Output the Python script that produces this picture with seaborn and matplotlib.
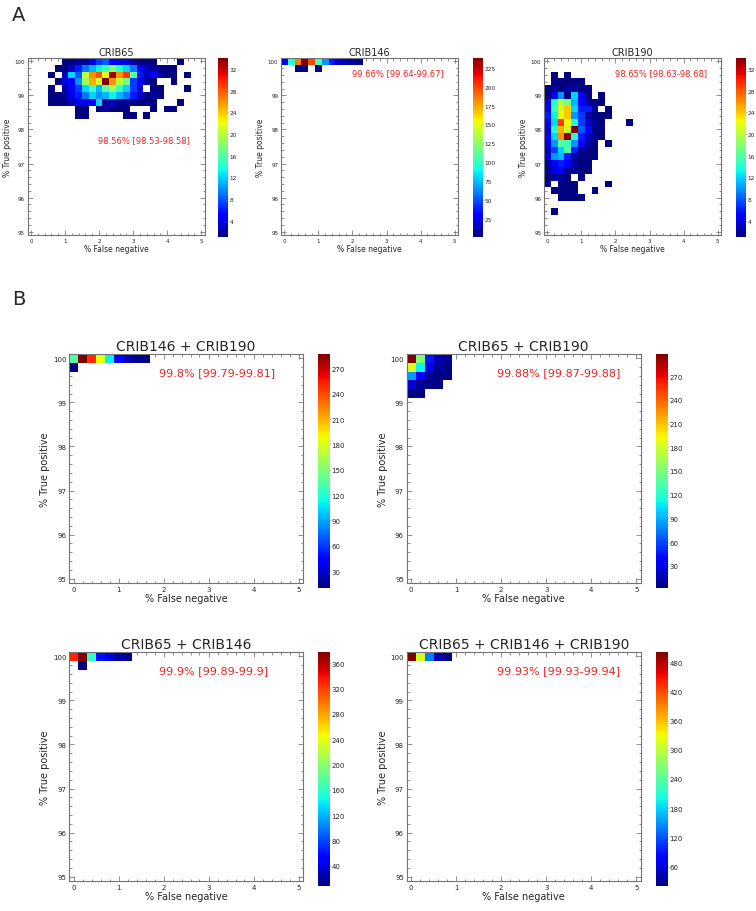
"""Re-draw the CRIB sensitivity / false-negative 2-D histograms (panels A and B)."""

import numpy as np
import pandas as pd
import matplotlib
matplotlib.use("Agg")
import matplotlib.pyplot as plt
import seaborn as sns

sns.set_style("white")
plt.rcParams["font.family"] = ["DejaVu Sans"]

W, H, DPI = 756, 912, 100

# bin centres (0.2 % steps); row 0 = 100 % true positive, col 0 = 0 % false negative
X_BINS = [round(0.2 * i, 1) for i in range(26)]
Y_BINS = [round(100 - 0.2 * i, 1) for i in range(26)]

# counts per bin, top-left block of every histogram (rest is empty)
CRIB65 = [
    [0, 0, 0, 0, 0, 1, 1, 2, 2, 4, 7, 8, 5, 4, 4, 2, 1, 1, 1, 0, 0, 0, 1, 0],
    [0, 0, 0, 0, 1, 1, 3, 6, 9, 11, 13, 15, 18, 14, 12, 9, 5, 3, 2, 1, 1, 1, 0, 0],
    [0, 0, 0, 1, 0, 3, 12, 8, 20, 26, 28, 22, 33, 26, 29, 16, 6, 3, 5, 2, 1, 1, 0, 1],
    [0, 0, 0, 0, 1, 4, 5, 10, 19, 25, 21, 34, 26, 20, 17, 7, 5, 2, 1, 0, 0, 1, 0, 0],
    [0, 0, 0, 1, 0, 2, 5, 7, 12, 15, 11, 16, 19, 15, 12, 7, 4, 0, 1, 1, 0, 0, 0, 1],
    [0, 0, 0, 1, 1, 2, 4, 6, 9, 12, 10, 11, 13, 11, 9, 6, 3, 1, 2, 1, 0, 0, 0, 0],
    [0, 0, 0, 1, 1, 1, 3, 4, 4, 5, 12, 2, 3, 2, 2, 1, 1, 1, 1, 0, 0, 0, 1, 0],
    [0, 0, 0, 0, 0, 0, 0, 1, 1, 0, 1, 2, 1, 1, 1, 0, 0, 0, 1, 0, 1, 1, 0, 0],
    [0, 0, 0, 0, 0, 0, 0, 1, 1, 0, 0, 0, 0, 0, 1, 1, 0, 1, 0, 0, 0, 0, 0, 0],
]
CRIB146 = [
    [30, 95, 185, 238, 200, 105, 65, 35, 18, 12, 9, 6],
    [0, 0, 2, 1, 0, 1, 0, 0, 0, 0, 0, 0],
]
CRIB190 = [
    [0, 0, 0, 0, 0, 0, 0, 0, 0, 0, 0, 0, 0],
    [0, 0, 0, 0, 0, 0, 0, 0, 0, 0, 0, 0, 0],
    [0, 1, 0, 1, 0, 0, 0, 0, 0, 0, 0, 0, 0],
    [0, 1, 1, 1, 1, 1, 0, 0, 0, 0, 0, 0, 0],
    [1, 2, 1, 2, 2, 1, 1, 0, 0, 0, 0, 0, 0],
    [1, 5, 10, 1, 12, 4, 1, 0, 1, 0, 0, 0, 0],
    [4, 14, 20, 17, 11, 5, 2, 1, 1, 0, 0, 0, 0],
    [5, 15, 21, 24, 12, 6, 6, 2, 0, 1, 0, 0, 0],
    [6, 13, 22, 24, 10, 7, 2, 1, 1, 1, 0, 0, 0],
    [5, 12, 29, 22, 14, 7, 3, 2, 1, 0, 0, 0, 1],
    [4, 14, 25, 21, 34, 8, 5, 1, 1, 0, 0, 0, 0],
    [5, 12, 26, 34, 14, 6, 3, 2, 1, 0, 0, 0, 0],
    [4, 10, 16, 15, 10, 5, 2, 1, 0, 1, 0, 0, 0],
    [3, 7, 12, 16, 6, 2, 1, 1, 0, 0, 0, 0, 0],
    [4, 10, 11, 6, 2, 1, 1, 1, 0, 0, 0, 0, 0],
    [2, 5, 6, 5, 2, 1, 1, 0, 0, 0, 0, 0, 0],
    [2, 4, 5, 2, 2, 1, 1, 0, 0, 0, 0, 0, 0],
    [1, 2, 2, 1, 0, 1, 0, 0, 0, 0, 0, 0, 0],
    [1, 0, 1, 1, 1, 0, 0, 0, 0, 1, 0, 0, 0],
    [0, 1, 1, 1, 1, 0, 0, 1, 0, 0, 0, 0, 0],
    [0, 0, 1, 1, 1, 1, 0, 0, 0, 0, 0, 0, 0],
    [0, 0, 0, 0, 0, 0, 0, 0, 0, 0, 0, 0, 0],
    [0, 1, 0, 0, 0, 0, 0, 0, 0, 0, 0, 0, 0],
]
CRIB146_190 = [
    [135, 287, 250, 185, 110, 45, 25, 15, 10],
    [10, 0, 0, 0, 0, 0, 0, 0, 0],
]
CRIB65_190 = [
    [298, 150, 45, 15, 8],
    [185, 110, 30, 8, 5],
    [85, 35, 10, 5, 3],
    [25, 8, 4, 2, 0],
    [4, 2, 0, 0, 0],
]
CRIB65_146 = [
    [330, 378, 160, 60, 40, 20, 15],
    [0, 8, 0, 0, 0, 0, 0],
]
CRIB65_146_190 = [
    [501, 310, 140, 40, 20],
]

TITLES = ["CRIB65", "CRIB146", "CRIB190",
          "CRIB146 + CRIB190", "CRIB65 + CRIB190",
          "CRIB65 + CRIB146", "CRIB65 + CRIB146 + CRIB190"]
ACCURACY = ["98.56% [98.53-98.58]", "99.66% [99.64-99.67]",
            "98.65% [98.63-98.68]", "99.8% [99.79-99.81]",
            "99.88% [99.87-99.88]", "99.9% [99.89-99.9]",
            "99.93% [99.93-99.94]"]
CBAR_STEP = [4, 25, 4, 30, 30, 40, 60]


def to_frame(block):
    grid = np.zeros((len(Y_BINS), len(X_BINS)))
    b = np.array(block, dtype=float)
    grid[:b.shape[0], :b.shape[1]] = b
    return pd.DataFrame(grid, index=Y_BINS, columns=X_BINS)


def xpos(v):
    return v / 0.2 + 0.5


def ypos(v):
    return (100 - v) / 0.2 + 0.5


def px_axes(fig, left, top, w, h):
    return fig.add_axes([left / W, 1 - (top + h) / H, w / W, h / H])


SMALL = dict(title=7, label=5.5, tick=4, annot=6, cb=4.2, pad=2)
LARGE = dict(title=10, label=7, tick=5, annot=8, cb=5, pad=3)


def draw(fig, block, title, acc, step, ax_rect, cax_rect, st, txt_xy):
    ax = px_axes(fig, *ax_rect)
    cax = px_axes(fig, *cax_rect)
    df = to_frame(block)
    sns.heatmap(df, mask=(df == 0), cmap="jet", ax=ax, cbar_ax=cax,
                xticklabels=False, yticklabels=False)

    for sp in ax.spines.values():
        sp.set_visible(True)
        sp.set_color("0.45")
        sp.set_linewidth(0.8)

    ax.set_xticks([xpos(v) for v in range(6)])
    ax.set_xticklabels([str(v) for v in range(6)])
    ax.set_xticks([xpos(v) for v in X_BINS], minor=True)
    ax.set_yticks([ypos(v) for v in range(95, 101)])
    ax.set_yticklabels([str(v) for v in range(95, 101)])
    ax.set_yticks([ypos(v) for v in Y_BINS], minor=True)
    ax.tick_params(which="both", direction="in", top=True, right=True,
                   bottom=True, left=True, color="0.4", width=0.5,
                   labelsize=st["tick"], pad=2, labelcolor="0.15")
    ax.tick_params(which="major", length=3.5)
    ax.tick_params(which="minor", length=1.8)
    ax.tick_params(axis="y", labelrotation=0)

    ax.set_title(title, fontsize=st["title"], pad=st["pad"])
    ax.set_xlabel("% False negative", fontsize=st["label"], labelpad=1)
    ax.set_ylabel("% True positive", fontsize=st["label"], labelpad=2)
    ax.text(xpos(txt_xy[0]), ypos(txt_xy[1]), acc, color="#ee2222",
            fontsize=st["annot"], ha="left", va="center")

    vmax = df.values.max()
    cax.set_yticks(np.arange(step, vmax, step))
    cax.tick_params(labelsize=st["cb"], length=2, width=0.5, pad=1,
                    direction="in", color="0.3")
    return ax


fig = plt.figure(figsize=(W / DPI, H / DPI), dpi=DPI)

# ── Panel A ──────────────────────────────────────────────────────────────────
panel_a = [CRIB65, CRIB146, CRIB190]
a_left = [27.6, 281, 544]
a_cbar = [218, 473, 736]
a_text = [(1.96, 97.71), (1.98, 99.68), (1.98, 99.68)]
for i, block in enumerate(panel_a):
    draw(fig, block, TITLES[i], ACCURACY[i], CBAR_STEP[i],
         (a_left[i], 59, 177, 177), (a_cbar[i], 59, 10, 179),
         SMALL, a_text[i])

# ── Panel B ──────────────────────────────────────────────────────────────────
panel_b = [CRIB146_190, CRIB65_190, CRIB65_146, CRIB65_146_190]
b_pos = [(69, 355), (406.7, 355), (69, 653), (406.7, 653)]
b_cbar = [318, 656, 318, 656]
for j, block in enumerate(panel_b):
    i = j + 3
    left, top = b_pos[j]
    draw(fig, block, TITLES[i], ACCURACY[i], CBAR_STEP[i],
         (left, top, 234, 229), (b_cbar[j], top, 12, 234),
         LARGE, (1.9, 99.68))

fig.text(12 / W, 1 - 21 / H, "A", fontsize=14)
fig.text(12 / W, 1 - 305 / H, "B", fontsize=14)

fig.savefig("out.png", dpi=DPI)
